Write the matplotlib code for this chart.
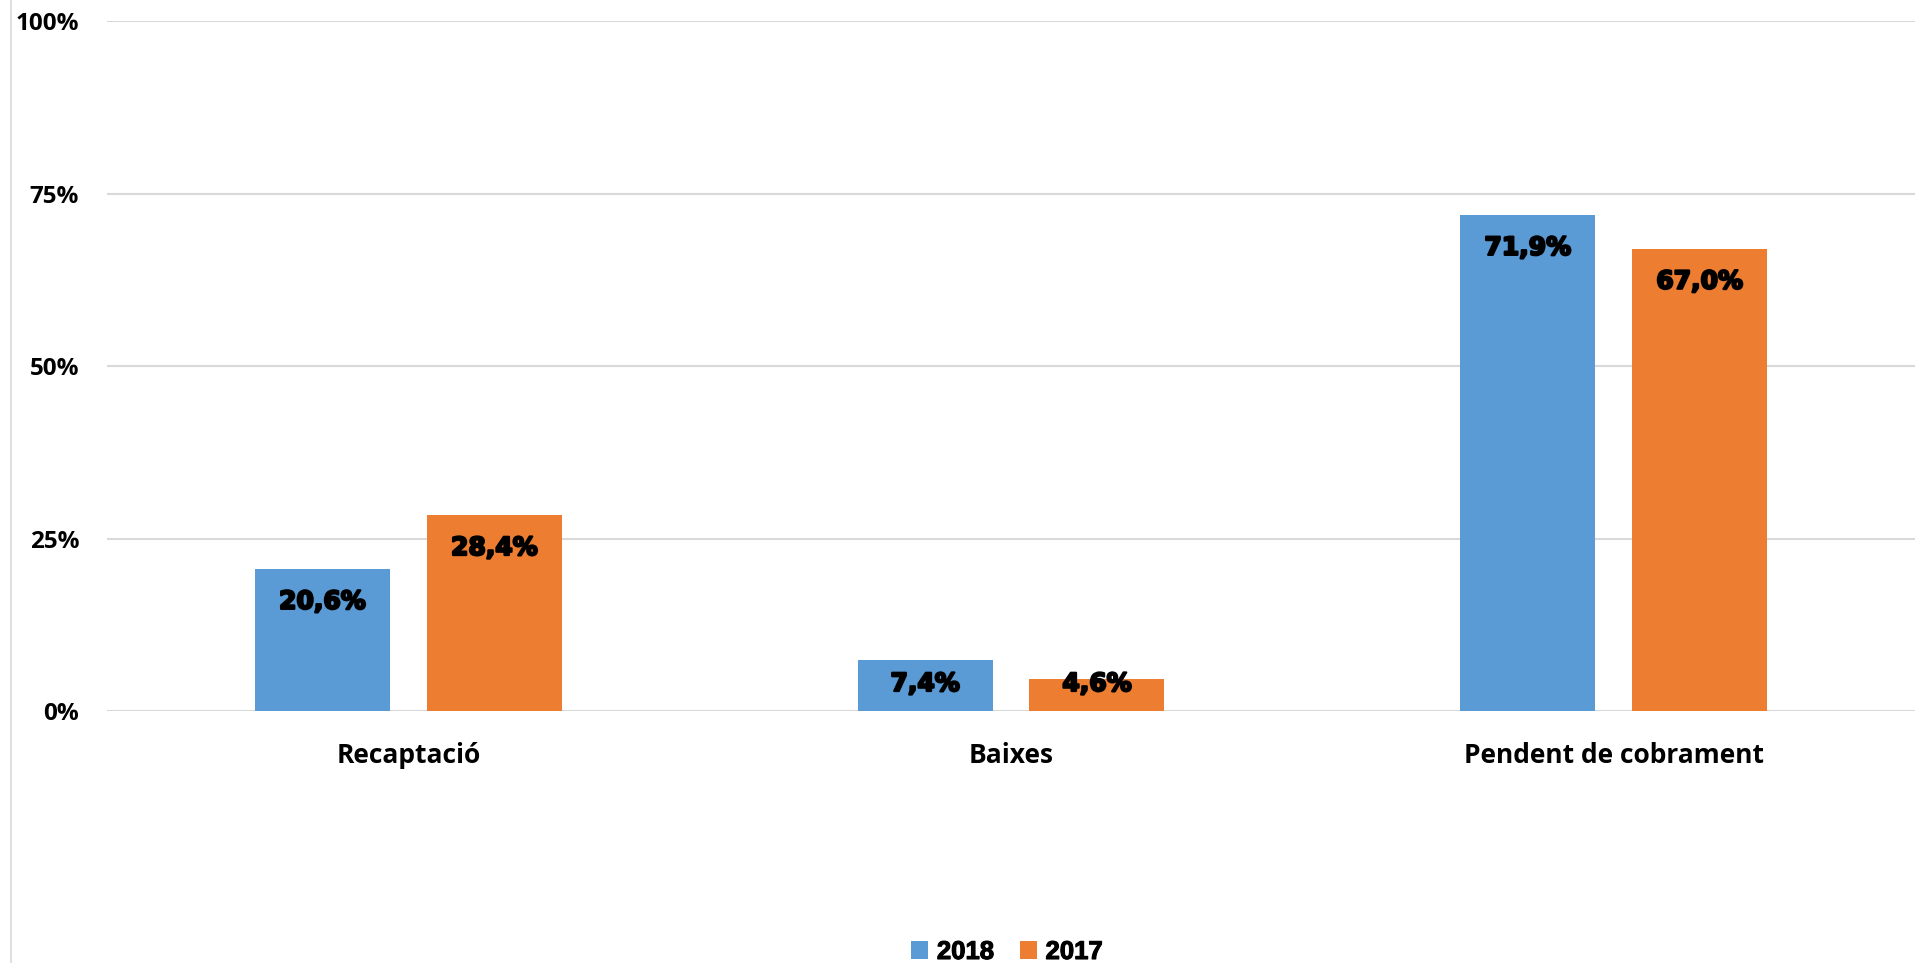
import matplotlib
matplotlib.use("Agg")
import matplotlib.pyplot as plt
import matplotlib.patheffects as pe
from matplotlib.lines import Line2D
import numpy as np

categories = ["Recaptació", "Baixes", "Pendent de cobrament"]
years = ["2018", "2017"]
values_2018 = [20.6, 7.4, 71.9]
values_2017 = [28.4, 4.6, 67.0]
ytick_values = [0, 25, 50, 75, 100]
ytick_labels = ["0%", "25%", "50%", "75%", "100%"]

blue = "#5B9BD5"
orange = "#ED7D31"
grid_col = "#D9D9D9"

fig = plt.figure(figsize=(19.18, 9.63), dpi=100)
ax = fig.add_axes([107 / 1918, 252 / 963, 1808 / 1918, 690 / 963])

x = np.arange(len(categories))
width = 0.224
off = 0.1426
b1 = ax.bar(x - off, values_2018, width, color=blue, label=years[0], zorder=3)
b2 = ax.bar(x + off, values_2017, width, color=orange, label=years[1], zorder=3)

# label sits inside the bar top, but never drops below the baseline
px = 100 / 690
for bars, vals in [(b1, values_2018), (b2, values_2017)]:
    for r, v in zip(bars, vals):
        y = max(v - 33 * px, 27 * px)
        ax.text(r.get_x() + r.get_width() / 2, y,
                f"{v:.1f}%".replace(".", ","),
                ha="center", va="center", fontsize=18,
                fontweight="heavy", family="DejaVu Sans", color="black",
                zorder=4,
                path_effects=[pe.withStroke(linewidth=1.6, foreground="black")])

ax.set_xlim(-0.5, 2.5)
ax.set_ylim(0, 100)
ax.set_yticks(ytick_values)
ax.set_yticklabels(ytick_labels, family="Open Sans", fontweight="bold", fontsize=17.5)
ax.set_xticks(x)
ax.set_xticklabels(categories, family="Open Sans", fontweight="bold", fontsize=19)
ax.tick_params(axis="y", length=0, pad=20)
ax.tick_params(axis="x", length=0, pad=22)
ax.grid(axis="y", color=grid_col, linewidth=1.5, zorder=0)
for s in ax.spines.values():
    s.set_visible(False)

leg = fig.legend(handles=[b1, b2], labels=years, loc="center",
                 bbox_to_anchor=(1007 / 1918, 1 - 952 / 963), ncol=2,
                 frameon=False, handlelength=0.65, handleheight=0.65,
                 handletextpad=0.35, columnspacing=1.0,
                 prop={"family": "Liberation Sans", "weight": "bold", "size": 18.5})
for t in leg.get_texts():
    t.set_path_effects([pe.withStroke(linewidth=0.8, foreground="black")])

fig.add_artist(Line2D([11 / 1918, 11 / 1918], [0, 1], color=grid_col,
                      linewidth=1.2, transform=fig.transFigure))

fig.savefig("out.png", dpi=100)
